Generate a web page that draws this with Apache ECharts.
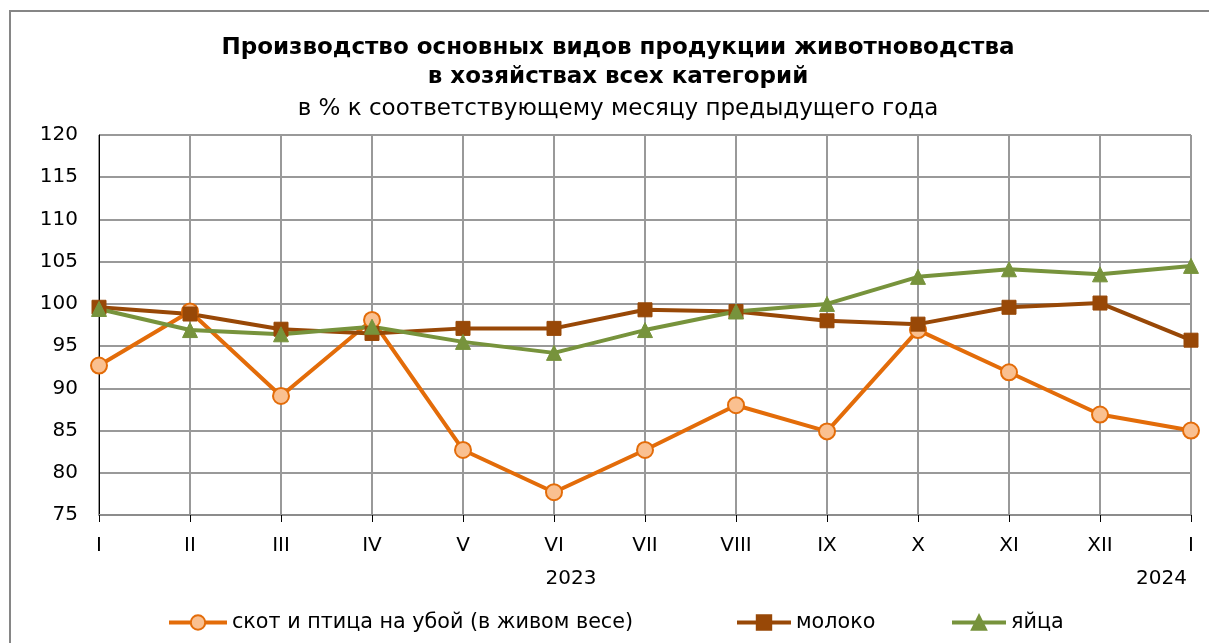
<!DOCTYPE html>
<html>
<head>
<meta charset="utf-8">
<script src="https://cdn.jsdelivr.net/npm/echarts@6/dist/echarts.min.js"></script>
<style>
  html, body { margin: 0; padding: 0; background: #fff; }
  #frame { position: absolute; left: 9px; top: 10px; width: 1300px; height: 700px; border: 2px solid #868686; }
  #chart { position: absolute; left: 0; top: 0; width: 1209px; height: 643px; }
</style>
</head>
<body>
<div id="frame"></div>
<div id="chart"></div>
<script>
// месяцы
var months = ['I', 'II', 'III', 'IV', 'V', 'VI', 'VII', 'VIII', 'IX', 'X', 'XI', 'XII', 'I']
var years = ['', '', '', '', '', '2023', '', '', '', '', '', '', '2024']
var yTicks = [75, 120, 5] // min, max, шаг

// в % к соответствующему месяцу предыдущего года
var skotData = [92.7, 99.1, 89.1, 98.1, 82.7, 77.7, 82.7, 88.0, 84.9, 96.9, 91.9, 86.9, 85.0]
var molokoData = [99.6, 98.8, 97.0, 96.5, 97.1, 97.1, 99.3, 99.1, 98.0, 97.6, 99.6, 100.1, 95.7]
var yaicaData = [99.4, 96.9, 96.4, 97.3, 95.5, 94.2, 96.9, 99.1, 100.0, 103.2, 104.1, 103.5, 104.5]

var FONT = '"DejaVu Sans", sans-serif'

var chart = echarts.init(document.getElementById('chart'))

var legendText = { fontSize: 20.7, color: '#000', fontFamily: FONT }
var legendLine = { width: 4 }

chart.setOption({
  animation: false,
  title: {
    text: 'Производство основных видов продукции животноводства\nв хозяйствах всех категорий',
    subtext: 'в % к соответствующему месяцу предыдущего года',
    left: 618,
    textAlign: 'center',
    top: 34,
    padding: 0,
    itemGap: 6,
    textStyle: {
      fontSize: 23,
      fontWeight: 'bold',
      color: '#000',
      fontFamily: FONT,
      lineHeight: 29
    },
    subtextStyle: {
      fontSize: 23,
      color: '#000',
      fontFamily: FONT
    }
  },
  legend: [
    {
      data: ['скот и птица на убой (в живом весе)'],
      left: 167, top: 612, padding: 0,
      itemWidth: 58, itemHeight: 18,
      lineStyle: legendLine,
      textStyle: legendText
    },
    {
      data: ['молоко'],
      left: 735, top: 612, padding: 0,
      itemWidth: 54, itemHeight: 18,
      lineStyle: legendLine,
      textStyle: legendText
    },
    {
      data: ['яйца'],
      left: 950, top: 612, padding: 0,
      itemWidth: 54, itemHeight: 18,
      lineStyle: legendLine,
      textStyle: legendText
    }
  ],
  grid: {
    left: 99,
    right: 18,
    top: 135,
    bottom: 128
  },
  xAxis: [
    {
      type: 'category',
      boundaryGap: false,
      data: months,
      axisLine: { lineStyle: { color: '#8c8c8c', width: 2 } },
      axisTick: { show: true, length: 7, lineStyle: { color: '#000' } },
      axisLabel: { fontSize: 20, color: '#000', fontFamily: FONT, margin: 21, interval: 0 },
      splitLine: { show: true, lineStyle: { color: '#999', width: 2 } }
    },
    {
      type: 'category',
      boundaryGap: false,
      position: 'bottom',
      data: years.map(function (y) {
        if (y === '2023') return { value: y, textStyle: { padding: [0, 0, 0, 34] } }
        if (y === '2024') return { value: y, textStyle: { align: 'right', padding: [0, 4, 0, 0] } }
        return y
      }),
      axisLine: { show: false },
      axisTick: { show: false },
      axisLabel: { fontSize: 20, color: '#000', fontFamily: FONT, margin: 54, interval: 0 },
      splitLine: { show: false }
    }
  ],
  yAxis: {
    type: 'value',
    min: yTicks[0],
    max: yTicks[1],
    interval: yTicks[2],
    axisLine: { show: true, lineStyle: { color: '#000', width: 1 } },
    axisTick: { show: false },
    axisLabel: { fontSize: 20, color: '#000', fontFamily: FONT, margin: 21 },
    splitLine: { lineStyle: { color: '#999', width: 2 } }
  },
  series: [
    {
      name: 'скот и птица на убой (в живом весе)',
      type: 'line',
      data: skotData,
      symbol: 'circle',
      symbolSize: 16,
      lineStyle: { color: '#E36C09', width: 4 },
      itemStyle: { color: '#FAC090', borderColor: '#E36C09', borderWidth: 2 }
    },
    {
      name: 'молоко',
      type: 'line',
      data: molokoData,
      symbol: 'rect',
      symbolSize: 14,
      lineStyle: { color: '#984807', width: 4 },
      itemStyle: { color: '#984807', borderColor: '#984807', borderWidth: 1 }
    },
    {
      name: 'яйца',
      type: 'line',
      data: yaicaData,
      symbol: 'triangle',
      symbolSize: 15,
      lineStyle: { color: '#77933C', width: 4 },
      itemStyle: { color: '#77933C', borderColor: '#77933C', borderWidth: 1 }
    }
  ]
})
</script>
</body>
</html>
